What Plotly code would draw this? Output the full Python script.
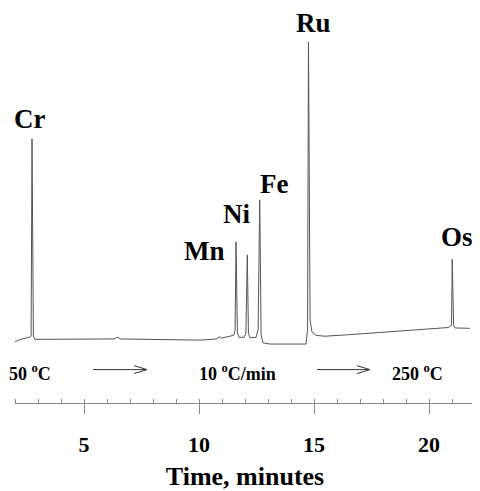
import plotly.graph_objects as go

# Chromatogram trace (time in minutes, detector signal in arbitrary units)
time_min = [2.00, 2.30, 2.62, 2.70, 2.74, 2.80, 2.87, 3.96, 6.35, 6.43, 6.57, 10.04, 10.78, 10.87, 10.96,
            11.35, 11.52, 11.57, 11.61, 11.67, 11.74, 11.96, 12.04, 12.10, 12.15, 12.22, 12.48, 12.57,
            12.64, 12.70, 12.78, 13.09, 14.65, 14.72, 14.76, 14.83, 14.91, 15.09, 15.48, 16.57, 18.74,
            20.83, 20.98, 21.01, 21.07, 21.13, 21.78]
signal = [15.6, 16.3, 16.7, 17.0, 67.2, 17.0, 16.2, 16.2, 16.3, 16.8, 16.3, 16.0, 16.3, 16.9, 16.5,
          17.0, 17.3, 18.6, 41.0, 17.8, 16.7, 16.7, 17.8, 37.7, 17.6, 16.6, 16.7, 18.6,
          51.7, 17.3, 15.3, 15.0, 15.0, 18.6, 91.9, 21.1, 18.1, 17.2, 17.0, 17.4, 18.3,
          19.2, 19.8, 36.6, 19.8, 19.1, 19.0]

# Peak labels
peak_names = ["Cr", "Mn", "Ni", "Fe", "Ru", "Os"]
peak_label_t = [2.65, 10.22, 11.65, 13.25, 14.97, 21.22]
peak_label_s = [72.2, 38.8, 48.2, 55.8, 96.8, 42.3]

# Temperature program annotations
temp_texts = ["50 <sup>o</sup>C", "10 <sup>o</sup>C/min", "250 <sup>o</sup>C"]
temp_t = [2.65, 11.67, 19.50]
temp_s = 7.8
arrow_starts = [5.39, 15.13]
arrow_ends = [7.74, 17.43]
arrow_s = 8.5

x_ticks = [5, 10, 15, 20]

serif = "Liberation Serif, Times New Roman, serif"

fig = go.Figure()
fig.add_trace(go.Scatter(x=time_min, y=signal, mode="lines",
                         line=dict(color="#555555", width=1), hoverinfo="skip", showlegend=False))

for name, t, s in zip(peak_names, peak_label_t, peak_label_s):
    fig.add_annotation(x=t, y=s, text=f"<b>{name}</b>", showarrow=False,
                       font=dict(family=serif, size=27, color="black"),
                       xanchor="center", yanchor="middle", borderpad=0)

for txt, t in zip(temp_texts, temp_t):
    fig.add_annotation(x=t, y=temp_s, text=f"<b>{txt}</b>", showarrow=False,
                       font=dict(family=serif, size=18, color="black"),
                       xanchor="center", yanchor="middle")

head_len = 0.56
head_half = 1.0
for a, b in zip(arrow_starts, arrow_ends):
    path = (f"M {a} {arrow_s} L {b} {arrow_s} "
            f"M {b - head_len} {arrow_s + head_half} L {b} {arrow_s} L {b - head_len} {arrow_s - head_half}")
    fig.add_shape(type="path", path=path, xref="x", yref="y",
                  line=dict(color="#333333", width=1))

# The page body has an 8px default margin, so the figure is sized 472x483 to fill the 480x491 window.
fig.update_layout(
    width=472, height=483,
    margin=dict(l=7, r=5, t=2, b=88),
    paper_bgcolor="white", plot_bgcolor="white",
    showlegend=False,
    xaxis=dict(
        range=[2, 22], showgrid=False, zeroline=False,
        showline=True, linecolor="#888888", linewidth=1,
        tickmode="array", tickvals=x_ticks, ticktext=[f"<b>{v}</b>" for v in x_ticks],
        ticks="outside", ticklen=10, tickcolor="#888888", tickwidth=1,
        tickfont=dict(family=serif, size=22, color="black"),
        ticklabelstandoff=12,
        minor=dict(ticks="inside", ticklen=4, dtick=1, tick0=2, tickcolor="#888888", tickwidth=1, showgrid=False),
        title=dict(text="<b>Time, minutes</b>", font=dict(family=serif, size=26, color="black"), standoff=10),
    ),
    yaxis=dict(range=[0, 100], visible=False, showgrid=False, zeroline=False),
)

fig.write_html("out.html")
